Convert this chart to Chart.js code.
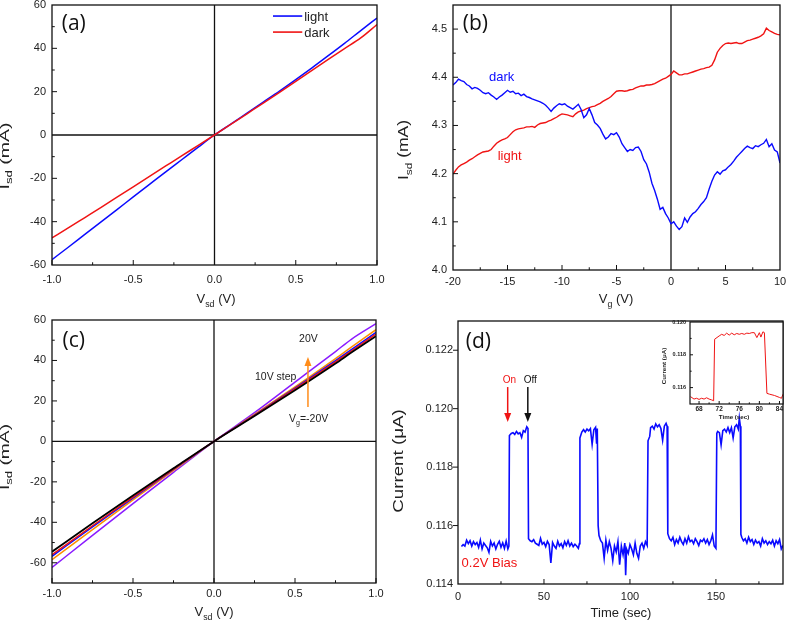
<!DOCTYPE html>
<html>
<head>
<meta charset="utf-8">
<script src="https://cdn.jsdelivr.net/npm/chart.js@4.4.1/dist/chart.umd.min.js"></script>
<style>
html, body { margin: 0; padding: 0; background: #fff; }
#fig { position: relative; width: 787px; height: 624px; overflow: hidden; }
#fig canvas { position: absolute; left: 0; top: 0; }
</style>
</head>
<body>
<div id="fig">
  <canvas id="cA" width="787" height="624"></canvas>
  <canvas id="cB" width="787" height="624"></canvas>
  <canvas id="cC" width="787" height="624"></canvas>
  <canvas id="cD" width="787" height="624"></canvas>
  <canvas id="cInset" width="787" height="624"></canvas>
</div>
<script>
/* ---------------- DATA ---------------- */
// (a) Isd vs Vsd, light / dark
const sdVolts = [-1, -0.9, -0.8, -0.7, -0.6, -0.5, -0.4, -0.3, -0.2, -0.1, 0,
                 0.1, 0.2, 0.3, 0.4, 0.5, 0.6, 0.7, 0.8, 0.9, 1];
const ivLight = [-57.5, -51.8, -46.0, -40.2, -34.4, -28.6, -22.8, -17.0, -11.3, -5.6, 0,
                 5.0, 10.1, 15.2, 20.3, 25.6, 31.0, 36.6, 42.3, 48.2, 54.0];
const ivDark  = [-47.5, -42.9, -38.2, -33.5, -28.7, -23.9, -19.1, -14.3, -9.5, -4.8, 0,
                 4.9, 9.8, 14.7, 19.7, 24.8, 29.8, 34.9, 39.9, 44.8, 51.0];

// (b) Isd vs Vg, from -20 V in 0.25 V steps
const VG_START = -20, VG_STEP = 0.25;
const gateDark = [
  4.384, 4.389, 4.396, 4.393,  4.391, 4.385, 4.382, 4.376,  4.379, 4.377, 4.373, 4.368,
  4.366, 4.368, 4.363, 4.359,  4.354, 4.359, 4.363, 4.368,  4.373, 4.369, 4.371, 4.366,
  4.367, 4.362, 4.365, 4.360,  4.358, 4.355, 4.353, 4.351,  4.349, 4.346, 4.342, 4.336,
  4.329, 4.336, 4.341, 4.345,  4.343, 4.345, 4.340, 4.337,  4.334, 4.339, 4.344, 4.333,
  4.316, 4.322, 4.335, 4.322,  4.306, 4.301, 4.294, 4.282,  4.272, 4.276, 4.283, 4.281,
  4.285, 4.276, 4.262, 4.254,  4.246, 4.250, 4.248, 4.254,  4.255, 4.246, 4.229, 4.220,
  4.203, 4.180, 4.165, 4.147,  4.126, 4.130, 4.117, 4.108,  4.096, 4.100, 4.091, 4.084,
  4.090, 4.108, 4.099, 4.110,  4.117, 4.121, 4.128, 4.136,  4.142, 4.150, 4.168, 4.184,
  4.197, 4.204, 4.199, 4.206,  4.208, 4.214, 4.219, 4.226,  4.234, 4.240, 4.246, 4.252,
  4.257, 4.254, 4.252, 4.258,  4.256, 4.260, 4.263, 4.271,  4.256, 4.262, 4.249, 4.245,
  4.222];
const gateLight = [
  4.199, 4.207, 4.214, 4.218,  4.221, 4.224, 4.228, 4.231,  4.235, 4.239, 4.242, 4.245,
  4.246, 4.247, 4.250, 4.257,  4.263, 4.267, 4.270, 4.272,  4.275, 4.281, 4.287, 4.291,
  4.293, 4.294, 4.295, 4.297,  4.297, 4.298, 4.296, 4.301,  4.304, 4.305, 4.306, 4.309,
  4.311, 4.314, 4.317, 4.321,  4.324, 4.323, 4.322, 4.320,  4.318, 4.324, 4.328, 4.330,
  4.332, 4.335, 4.337, 4.339,  4.340, 4.343, 4.346, 4.350,  4.353, 4.356, 4.360, 4.366,
  4.371, 4.372, 4.372, 4.371,  4.372, 4.374, 4.375, 4.378,  4.380, 4.382, 4.382, 4.384,
  4.384, 4.385, 4.387, 4.390,  4.393, 4.396, 4.398, 4.402,  4.406, 4.413, 4.409, 4.405,
  4.405, 4.407, 4.407, 4.409,  4.411, 4.413, 4.415, 4.417,  4.418, 4.420, 4.421, 4.425,
  4.436, 4.452, 4.460, 4.466,  4.470, 4.471, 4.470, 4.471,  4.472, 4.470, 4.470, 4.473,
  4.476, 4.477, 4.479, 4.481,  4.483, 4.486, 4.490, 4.502,  4.497, 4.494, 4.491, 4.489,
  4.488];

// (c) Isd vs Vsd for Vg = -20 ... 20 V (10 V step)
const sdVoltsC = [-1, -0.75, -0.5, -0.25, 0, 0.25, 0.5, 0.75, 0.85, 1];
const ivGateM20 = [-54.5, -40.5, -26.8, -13.3, 0, 12.5, 25.3, 38.5, 44.0, 52.0];
const ivGateM10 = [-56.0, -41.7, -27.6, -13.7, 0, 12.8, 25.9, 39.3, 44.8, 53.0];
const ivGate0   = [-56.8, -42.3, -28.0, -13.9, 0, 13.0, 26.3, 39.9, 45.5, 53.9];
const ivGateP10 = [-58.5, -43.6, -28.9, -14.4, 0, 13.3, 26.9, 40.9, 46.7, 55.2];
const ivGateP20 = [-62.3, -46.5, -30.8, -15.3, 0, 14.2, 29.3, 44.4, 50.6, 58.2];

// (d) photocurrent vs time, [sec, uA]
const photoTrace = [
  [2,.11528],[3,.11535],[4,.11530],[5,.11550],[6,.11538],[7,.11548],[8,.11530],[9,.11545],[10,.11535],[11,.11542],
  [12,.11525],[13,.11550],[14,.11520],[15,.11540],[16,.11532],[17,.11524],[18,.11508],[19,.11546],[20,.11530],[21,.11540],
  [22,.11520],[23,.11536],[24,.11546],[25,.11526],[26,.11541],[27,.11522],[28,.11547],[29,.11520],[29.6,.11530],[29.9,.11908],
  [31,.11915],[32,.11918],[33,.11912],[34,.11922],[35,.11914],[36,.11918],[37,.11902],[38,.11925],[39,.11920],[40,.11938],
  [40.7,.11932],[41,.11555],[42,.11548],[43,.11545],[44,.11552],[45,.11540],[46,.11536],[47,.11532],[48,.11556],[49,.11536],
  [50,.11542],[51,.11528],[52,.11546],[53,.11535],[54,.11472],[55,.11542],[56,.11530],[57,.11522],[58,.11546],[59,.11530],
  [60,.11538],[61,.11524],[62,.11545],[63,.11532],[64,.11548],[65,.11530],[66,.11540],[67,.11528],[68,.11536],[69,.11530],
  [70,.11522],[70.6,.11538],[70.9,.11900],[72,.11920],[73,.11928],[74,.11920],[75,.11930],[76,.11924],[77,.11932],[78,.11878],
  [79,.11928],[80,.11936],[80.6,.11880],[81,.11932],[81.5,.11600],[82,.11566],[83,.11548],[84,.11540],[85,.11488],[86,.11550],
  [87,.11515],[88,.11545],[89,.11522],[90,.11480],[91,.11530],[92,.11510],[93,.11545],[94,.11466],[95,.11530],[96,.11500],
  [97,.11540],[97.5,.11430],[98,.11520],[99,.11505],[100,.11535],[101,.11520],[102,.11500],[103,.11540],[104,.11505],[105,.11488],
  [106,.11530],[107,.11540],[108,.11522],[109,.11545],[110,.11532],[110.5,.11890],[111.5,.11905],[112,.11935],[113,.11940],[114,.11930],
  [115,.11948],[116,.11938],[117,.11945],[118,.11932],[119,.11892],[120,.11940],[121,.11950],[121.6,.11940],[122,.11572],[123,.11555],
  [124,.11548],[125,.11560],[126,.11535],[127,.11552],[128,.11540],[129,.11560],[130,.11545],[131,.11535],[132,.11555],[133,.11540],
  [134,.11562],[135,.11545],[136,.11550],[137,.11538],[138,.11555],[139,.11545],[140,.11532],[141,.11550],[142,.11545],[143,.11555],
  [144,.11540],[145,.11552],[146,.11535],[147,.11548],[148,.11568],[149,.11530],[150,.11522],[150.5,.11915],[151,.11922],[152,.11918],
  [153,.11876],[154,.11925],[155,.11930],[156,.11920],[157,.11935],[158,.11918],[159,.11935],[160,.11900],[161,.11938],[162,.11945],
  [163,.11930],[163.6,.11968],[164.2,.11940],[164.5,.11570],[165,.11560],[166,.11548],[167,.11555],[168,.11540],[169,.11560],[170,.11545],
  [171,.11552],[172,.11535],[173,.11550],[174,.11540],[175,.11545],[176,.11530],[177,.11555],[178,.11540],[179,.11548],[180,.11535],
  [181,.11545],[182,.11538],[183,.11550],[184,.11530],[185,.11548],[186,.11538],[187,.11552],[188,.11520],[189,.11532]];

// (d) inset: zoom on the second pulse
const insetTrace = [
  [66.3,.11545],[67,.11530],[67.5,.11535],[68,.11528],[68.5,.11535],[69,.11530],[69.5,.11538],[70,.11530],[70.5,.11525],[70.9,.11520],
  [71.1,.11895],[72,.11915],[72.5,.11925],[73,.11918],[73.5,.11932],[74,.11920],[74.5,.11932],[75,.11922],[75.5,.11930],[76,.11925],
  [76.5,.11930],[77,.11925],[77.5,.11932],[78,.11930],[78.5,.11935],[79,.11935],[79.5,.11905],[80,.11935],[80.3,.11908],[80.7,.11940],
  [81,.11935],[81.5,.11565],[82,.11560],[83,.11552],[84,.11540],[84.4,.11535],[84.7,.11560]];

/* ---------------- STYLE ---------------- */
const W = 787, H = 624;
const FONT = "'Liberation Sans', Arial, sans-serif";
const LABEL_FONT = "'Open Sans', 'Liberation Sans', sans-serif";
const BLUE = '#0a0aff', RED = '#f01414', ORANGE = '#ff8c1a', PURPLE = '#8a1aff';

/* rich text: parts = [[text, isSub], ...], y is the baseline */
function drawRich(ctx, parts, x, y, size, o = {}) {
  const fam = o.family || FONT, wt = o.bold ? 'bold ' : '';
  ctx.save();
  ctx.translate(x, y);
  if (o.rotate) ctx.rotate(o.rotate);
  if (o.stretch) ctx.scale(o.stretch, 1);
  ctx.fillStyle = o.color || '#222';
  ctx.textBaseline = 'alphabetic';
  ctx.textAlign = 'left';
  const fontOf = sub => wt + (sub ? size * 0.68 : size) + 'px ' + fam;
  const widths = parts.map(([t, sub]) => { ctx.font = fontOf(sub); return ctx.measureText(t).width; });
  const total = widths.reduce((s, w) => s + w, 0);
  let cx = o.align === 'left' ? 0 : -total / 2;
  parts.forEach(([t, sub], i) => {
    ctx.font = fontOf(sub);
    ctx.fillText(t, cx, sub ? size * 0.3 : 0);
    cx += widths[i];
  });
  ctx.restore();
}

function vArrow(ctx, x, y0, y1, color) {
  ctx.save();
  ctx.strokeStyle = color; ctx.fillStyle = color; ctx.lineWidth = 1.5;
  const dir = Math.sign(y1 - y0);
  ctx.beginPath(); ctx.moveTo(x, y0); ctx.lineTo(x, y1 - dir * 6); ctx.stroke();
  ctx.beginPath(); ctx.moveTo(x, y1); ctx.lineTo(x - 3.5, y1 - dir * 9); ctx.lineTo(x + 3.5, y1 - dir * 9); ctx.closePath(); ctx.fill();
  ctx.restore();
}

/* frame, ticks, zero lines, titles and notes */
function decorPlugin(d) {
  return {
    id: 'decor',
    beforeDatasetsDraw(chart) {
      const { ctx, chartArea: a, scales: { x, y } } = chart;
      ctx.save();
      if (d.whiteBg) { ctx.fillStyle = '#fff'; ctx.fillRect(a.left, a.top, a.right - a.left, a.bottom - a.top); }
      ctx.strokeStyle = '#111'; ctx.lineWidth = 1.3;
      if (d.zeroX) { const px = x.getPixelForValue(0); ctx.beginPath(); ctx.moveTo(px, a.top); ctx.lineTo(px, a.bottom); ctx.stroke(); }
      if (d.zeroY) { const py = y.getPixelForValue(0); ctx.beginPath(); ctx.moveTo(a.left, py); ctx.lineTo(a.right, py); ctx.stroke(); }
      ctx.restore();
    },
    afterDatasetsDraw(chart) {
      const { ctx, chartArea: a, scales: { x, y } } = chart;
      ctx.save();
      ctx.strokeStyle = '#111'; ctx.lineWidth = d.frameWidth || 1.3;
      ctx.strokeRect(a.left, a.top, a.right - a.left, a.bottom - a.top);
      ctx.lineWidth = 1;
      const tk = d.ticks;
      const yDir = tk.yOut ? -1 : 1;
      ctx.beginPath();
      tk.xMajor.forEach(v => { const p = x.getPixelForValue(v); ctx.moveTo(p, a.bottom); ctx.lineTo(p, a.bottom - tk.len); });
      tk.xMinor.forEach(v => { const p = x.getPixelForValue(v); ctx.moveTo(p, a.bottom); ctx.lineTo(p, a.bottom - tk.len * 0.55); });
      tk.yMajor.forEach(v => { const p = y.getPixelForValue(v); ctx.moveTo(a.left, p); ctx.lineTo(a.left + yDir * tk.len, p); });
      tk.yMinor.forEach(v => { const p = y.getPixelForValue(v); ctx.moveTo(a.left, p); ctx.lineTo(a.left + yDir * tk.len * 0.55, p); });
      ctx.stroke();
      ctx.restore();

      const t = d.titles;
      drawRich(ctx, t.x.parts, t.x.cx, t.x.base, t.size, { bold: t.bold });
      drawRich(ctx, t.y.parts, t.y.cx, t.y.cy, t.ySize || t.size,
               { bold: t.bold, rotate: -Math.PI / 2, stretch: t.y.stretch });
      if (d.tag) drawRich(ctx, [[d.tag.text]], x.getPixelForValue(d.tag.x), y.getPixelForValue(d.tag.y), 21,
                          { align: 'left', family: LABEL_FONT, color: '#111' });
      (d.legend || []).forEach(l => {
        const py = y.getPixelForValue(l.y);
        ctx.save(); ctx.strokeStyle = l.color; ctx.lineWidth = 1.6;
        ctx.beginPath(); ctx.moveTo(x.getPixelForValue(l.x0), py); ctx.lineTo(x.getPixelForValue(l.x1), py); ctx.stroke();
        ctx.restore();
        drawRich(ctx, [[l.text]], x.getPixelForValue(l.tx), py + 4.5, 13, { align: 'left' });
      });
      (d.arrows || []).forEach(r => vArrow(ctx, x.getPixelForValue(r.x), y.getPixelForValue(r.y0), y.getPixelForValue(r.y1), r.color));
      (d.notes || []).forEach(n => drawRich(ctx, n.parts, x.getPixelForValue(n.x), y.getPixelForValue(n.y), n.size,
                                            { align: 'left', color: n.color || '#222' }));
    }
  };
}

function buildScale(axis, s, size) {
  return {
    type: 'linear', min: s.min, max: s.max,
    grid: { display: false, drawTicks: false }, border: { display: false },
    ticks: {
      padding: s.pad, color: '#222', autoSkip: false, maxRotation: 0,
      font: { family: FONT, size: s.font || 11, weight: s.bold ? 'bold' : 'normal' },
      callback: v => v.toFixed(s.dec)
    },
    afterBuildTicks: sc => { sc.ticks = s.major.map(v => ({ value: v })); },
    afterFit: sc => {
      if (axis === 'x') sc.height = size; else sc.width = size;
      sc.paddingLeft = sc.paddingRight = sc.paddingTop = sc.paddingBottom = 0;
    }
  };
}

/* box = plot area [left, top, right, bottom] in page px */
function makePanel(id, box, xs, ys, datasets, decor) {
  const yW = 40, xH = 20;
  return new Chart(document.getElementById(id), {
    type: 'line',
    data: { datasets },
    options: {
      responsive: false, animation: false, devicePixelRatio: 1,
      layout: { padding: { left: box[0] - yW, top: box[1], right: W - box[2], bottom: H - box[3] - xH } },
      plugins: { legend: { display: false }, tooltip: { enabled: false } },
      elements: { point: { radius: 0 }, line: { borderWidth: 1.5, tension: 0 } },
      scales: { x: buildScale('x', xs, xH), y: buildScale('y', ys, yW) }
    },
    plugins: [decorPlugin(decor)]
  });
}

const xy = (xs, ys) => xs.map((v, i) => ({ x: v, y: ys[i] }));
const pairs = arr => arr.map(([t, v]) => ({ x: t, y: v }));
const gateXY = ys => ys.map((v, i) => ({ x: VG_START + i * VG_STEP, y: v }));
const smooth = { cubicInterpolationMode: 'monotone' };

/* (a) */
makePanel('cA', [52, 5, 377, 265],
  { min: -1, max: 1, major: [-1, -0.5, 0, 0.5, 1], dec: 1, pad: 8 },
  { min: -60, max: 60, major: [-60, -40, -20, 0, 20, 40, 60], dec: 0, pad: 6 },
  [
    { data: xy(sdVolts, ivDark), borderColor: RED, ...smooth },
    { data: xy(sdVolts, ivLight), borderColor: BLUE, ...smooth }
  ],
  {
    zeroX: true, zeroY: true,
    ticks: { xMajor: [-1, -0.5, 0, 0.5, 1], xMinor: [-0.75, -0.25, 0.25, 0.75],
             yMajor: [-40, -20, 20, 40], yMinor: [-50, -30, -10, 10, 30, 50], len: 5 },
    titles: { size: 13, ySize: 13, x: { parts: [['V'], ['sd', 1], [' (V)']], cx: 216, base: 303 },
              y: { parts: [['I'], ['sd', 1], [' (mA)']], cx: 8.5, cy: 156, stretch: 1.5 } },
    tag: { text: '(a)', x: -0.94, y: 48.5 },
    legend: [{ text: 'light', color: BLUE, x0: 0.36, x1: 0.54, tx: 0.552, y: 54.9 },
             { text: 'dark', color: RED, x0: 0.36, x1: 0.54, tx: 0.552, y: 47.5 }]
  });

/* (b) */
makePanel('cB', [453, 5, 780, 270],
  { min: -20, max: 10, major: [-20, -15, -10, -5, 0, 5, 10], dec: 0, pad: 5 },
  { min: 4.0, max: 4.55, major: [4.0, 4.1, 4.2, 4.3, 4.4, 4.5], dec: 1, pad: 6 },
  [
    { data: gateXY(gateDark), borderColor: BLUE, borderWidth: 1.4 },
    { data: gateXY(gateLight), borderColor: RED, borderWidth: 1.4 }
  ],
  {
    zeroX: true,
    ticks: { xMajor: [-15, -10, -5, 5], xMinor: [-17.5, -12.5, -7.5, -2.5, 2.5, 7.5],
             yMajor: [4.1, 4.2, 4.3, 4.4, 4.5], yMinor: [4.05, 4.15, 4.25, 4.35, 4.45], len: 5 },
    titles: { size: 13, ySize: 14, x: { parts: [['V'], ['g', 1], [' (V)']], cx: 616, base: 303 },
              y: { parts: [['I'], ['sd', 1], [' (mA)']], cx: 408, cy: 150, stretch: 1.25 } },
    tag: { text: '(b)', x: -19.1, y: 4.498 },
    notes: [{ parts: [['dark']], x: -16.7, y: 4.393, size: 13, color: BLUE },
            { parts: [['light']], x: -15.9, y: 4.228, size: 13, color: RED }]
  });

/* (c) */
makePanel('cC', [52, 320, 376, 583],
  { min: -1, max: 1, major: [-1, -0.5, 0, 0.5, 1], dec: 1, pad: 4 },
  { min: -70, max: 60, major: [-60, -40, -20, 0, 20, 40, 60], dec: 0, pad: 6 },
  [
    { data: xy(sdVoltsC, ivGateM20), borderColor: '#000', borderWidth: 1.8, ...smooth },
    { data: xy(sdVoltsC, ivGateM10), borderColor: RED, ...smooth },
    { data: xy(sdVoltsC, ivGate0), borderColor: BLUE, ...smooth },
    { data: xy(sdVoltsC, ivGateP10), borderColor: '#ff8c00', ...smooth },
    { data: xy(sdVoltsC, ivGateP20), borderColor: PURPLE, ...smooth }
  ],
  {
    zeroX: true, zeroY: true,
    ticks: { xMajor: [-1, -0.5, 0, 0.5, 1], xMinor: [-0.75, -0.25, 0.25, 0.75],
             yMajor: [-60, -40, -20, 20, 40], yMinor: [-50, -30, -10, 10, 30, 50], len: 5 },
    titles: { size: 13, ySize: 13, x: { parts: [['V'], ['sd', 1], [' (V)']], cx: 214, base: 616 },
              y: { parts: [['I'], ['sd', 1], [' (mA)']], cx: 8.5, cy: 457, stretch: 1.48 } },
    tag: { text: '(c)', x: -0.935, y: 46.7 },
    arrows: [{ x: 0.58, y0: 17, y1: 41.7, color: ORANGE }],
    notes: [{ parts: [['20V']], x: 0.525, y: 49.1, size: 10.5 },
            { parts: [['10V step']], x: 0.253, y: 30.4, size: 10.5 },
            { parts: [['V'], ['g', 1], ['=-20V']], x: 0.463, y: 9.6, size: 10.5 }]
  });

/* (d) */
makePanel('cD', [458, 321, 783, 584],
  { min: 0, max: 189, major: [0, 50, 100, 150], dec: 0, pad: 6 },
  { min: 0.114, max: 0.123, major: [0.114, 0.116, 0.118, 0.120, 0.122], dec: 3, pad: 5 },
  [ { data: pairs(photoTrace), borderColor: BLUE, borderWidth: 1.6 } ],
  {
    ticks: { xMajor: [50, 100, 150], xMinor: [25, 75, 125, 175],
             yMajor: [0.116, 0.118, 0.120, 0.122], yMinor: [], yOut: true, len: 5 },
    titles: { size: 13, ySize: 15, x: { parts: [['Time (sec)']], cx: 621, base: 617 },
              y: { parts: [['Current (\u03bcA)']], cx: 403, cy: 461, stretch: 1.25 } },
    tag: { text: '(d)', x: 4.5, y: 0.12208 },
    arrows: [{ x: 28.9, y0: 0.12074, y1: 0.11954, color: RED },
             { x: 40.6, y0: 0.12074, y1: 0.11954, color: '#111' }],
    notes: [{ parts: [['On']], x: 26.0, y: 0.12088, size: 10, color: RED },
            { parts: [['Off']], x: 38.2, y: 0.12088, size: 10, color: '#111' },
            { parts: [['0.2V Bias']], x: 2.1, y: 0.11458, size: 13, color: RED }]
  });

/* (d) inset */
makePanel('cInset', [690, 322, 783, 404],
  { min: 66.2, max: 84.7, major: [68, 72, 76, 80, 84], dec: 0, pad: 1, font: 6.5, bold: true },
  { min: 0.115, max: 0.120, major: [0.116, 0.118, 0.120], dec: 3, pad: 4, font: 5.5, bold: true },
  [ { data: pairs(insetTrace), borderColor: RED, borderWidth: 1 } ],
  {
    whiteBg: true, frameWidth: 1.2,
    ticks: { xMajor: [68, 72, 76, 80, 84], xMinor: [70, 74, 78, 82],
             yMajor: [0.116, 0.118], yMinor: [0.117, 0.119], len: 3 },
    titles: { size: 6.2, bold: true, x: { parts: [['Time (sec)']], cx: 734, base: 419 },
              y: { parts: [['Current (\u03bcA)']], cx: 666, cy: 366 } }
  });
</script>
</body>
</html>
